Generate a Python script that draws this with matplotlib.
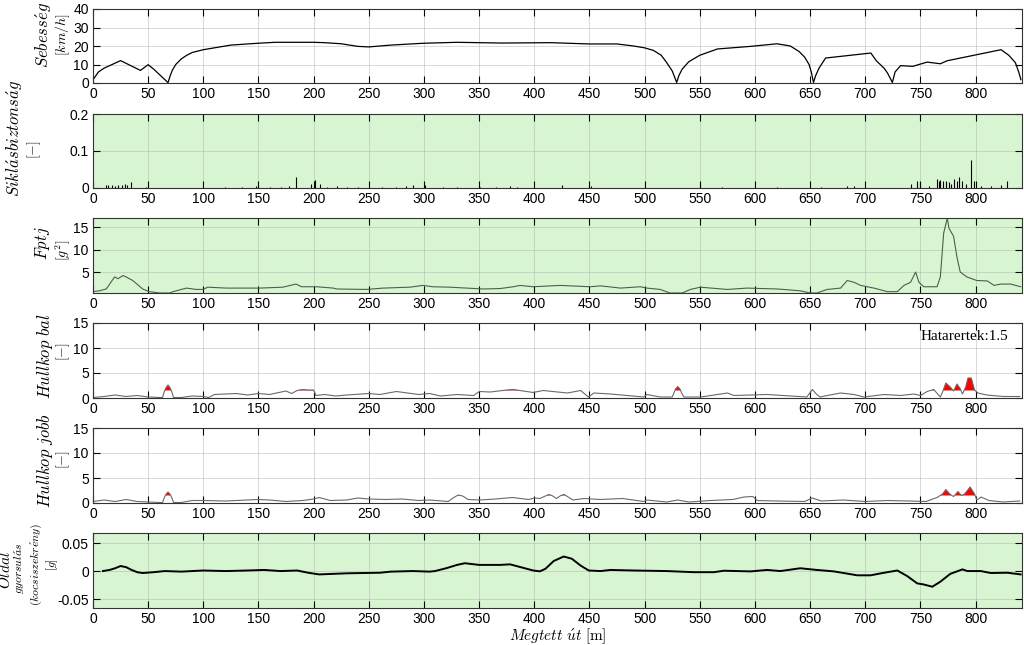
import numpy as np
import matplotlib.pyplot as plt
from matplotlib import rcParams

rcParams['font.family'] = 'Liberation Sans'
rcParams['mathtext.fontset'] = 'cm'
rcParams['font.size'] = 10

# Sebesség [km/h]
speed_x = [0, 5, 10, 25, 43, 50, 55, 63, 68, 70, 72, 75, 80, 85, 90, 100, 125, 150, 165, 200, 210, 225, 240,
           250, 270, 300, 330, 370, 415, 450, 475, 490, 500, 508, 515, 520, 525, 529, 531, 534, 540, 550,
           566, 596, 620, 632, 640, 645, 649, 651, 653, 655, 658, 664, 705, 710, 717, 720, 724.5, 727, 732,
           743, 756, 768, 774, 823, 830, 836, 839, 841]
speed_y = [1.8, 6, 8, 12.1, 6.8, 9.9, 7.5, 3, 0.2, 4, 7, 10, 13, 15, 16.5, 18, 20.5, 21.5, 22, 22, 21.8,
           21.2, 19.8, 19.5, 20.5, 21.5, 22, 21.6, 21.8, 21.1, 21.1, 20, 19, 17.6, 15, 11, 6.5, 0.3, 4, 7.5,
           11.5, 15, 18.4, 19.8, 21.2, 20, 17, 14, 10, 6, 0.3, 4, 8, 13.5, 16.2, 12, 8, 5.5, 0.3, 6, 9.4,
           9, 11.3, 10.4, 12, 18, 15, 11, 6, 1.8]

# Siklásbiztonság [-]
slip_x = [12, 14, 17, 20, 23, 26, 29, 31, 34, 48, 120, 135, 148, 160, 170, 178, 184.4, 198, 201, 205.6,
          212, 220.7, 229.8, 240, 262, 275, 284, 290, 300.6, 317, 330, 351, 365, 378, 384, 425, 451,
          500, 550.6, 570, 620, 660, 683.6, 689.7, 700, 741, 747, 749.6, 758, 765.3, 766.5, 768, 770,
          772.8, 775.8, 778, 780, 783, 785, 788, 791, 795.5, 798.5, 805, 813.7, 822.7, 828]
slip_y = [0.008, 0.007, 0.009, 0.006, 0.008, 0.007, 0.01, 0.008, 0.015, 0.003, 0.002, 0.003, 0.005, 0.003,
          0.003, 0.006, 0.031, 0.012, 0.022, 0.01, 0.004, 0.005, 0.004, 0.003, 0.003, 0.004, 0.006,
          0.008, 0.007, 0.004, 0.003, 0.004, 0.003, 0.005, 0.004, 0.008, 0.005, 0.003, 0.008, 0.003,
          0.003, 0.004, 0.006, 0.005, 0.003, 0.012, 0.02, 0.015, 0.005, 0.025, 0.02, 0.022, 0.018,
          0.02, 0.015, 0.012, 0.025, 0.018, 0.03, 0.02, 0.01, 0.075, 0.02, 0.005, 0.006, 0.008, 0.02]

# Fptj [g^2]
fptj_x = [0, 6, 12, 19.6, 22.7, 27.2, 30, 36, 45, 51, 60.5, 69.5, 72.6, 84.7, 93.7, 99.8, 104, 121, 151,
          172, 184, 189, 202.6, 217.7, 220.7, 248, 263, 287, 299, 308, 323.5, 353.7, 369, 381, 387,
          399, 423.6, 450.8, 460, 478, 496, 502, 514, 523, 534, 541.5, 550.6, 574.8, 593, 620, 641, 650,
          656, 665.5, 677.6, 683.6, 689.7, 695.7, 707.8, 720, 729, 735, 741, 745.6, 748.6, 753, 765,
          768, 771, 774.3, 775.8, 780, 783, 786, 792, 801, 810.6, 816.7, 822.7, 831.8, 840.8]
fptj_y = [0.6, 0.8, 1.2, 3.9, 3.5, 4.2, 3.9, 3.1, 1.2, 0.6, 0.3, 0.3, 0.6, 1.4, 1.1, 1.1, 1.6, 1.4, 1.4,
          1.6, 2.3, 1.7, 1.7, 1.4, 1.2, 1.1, 1.4, 1.6, 2.0, 1.7, 1.6, 1.2, 1.3, 1.7, 2.0,
          1.7, 2.0, 1.7, 1.9, 1.4, 1.7, 1.4, 1.1, 0.3, 0.3, 1.1, 1.6, 1.1, 1.4, 1.2, 0.8, 0.3,
          0.3, 1.1, 1.4, 3.1, 2.7, 2.0, 1.4, 0.6, 0.6, 2.0, 2.7, 5.0, 2.7, 1.7, 1.7,
          3.9, 13.7, 17.1, 14.8, 13, 8.4, 5, 3.9, 3.1, 3.0, 2.0, 2.3, 2.3, 1.7]

# Hullkop bal [-]
bal_x = [0, 10, 20, 30, 40, 50, 60, 63, 64.5, 66, 68, 70, 71.5, 73, 80, 90, 100, 105, 110, 120, 130, 140,
         150, 160, 175, 180, 185, 190, 195, 200, 202, 210, 220, 230, 250, 260, 270, 275, 285, 295, 305,
         315, 330, 345, 350, 360, 375, 381, 390, 399, 408, 430, 442, 449, 454, 469, 484, 499, 502, 514,
         525, 526.5, 528, 530, 532, 533.5, 535.5, 551, 575, 581, 611, 647, 652, 656, 659, 665.5, 677.6,
         689.7, 698.8, 717, 732, 744, 750, 756, 762, 768, 770, 773, 777, 780, 783, 786, 788, 791, 793,
         796, 799, 802, 810, 825, 840]
bal_y = [0.1, 0.3, 0.6, 0.3, 0.5, 0.2, 0.1, 0.1, 1.2, 2.0, 2.6, 2.0, 1.2, 0.1, 0.1, 0.4, 0.3, 0.1, 0.7,
         0.8, 0.9, 0.6, 0.9, 0.7, 1.4, 0.9, 1.5, 1.7, 1.6, 1.6, 0.5, 0.7, 0.4, 0.6, 0.9, 0.7, 1.1, 1.3,
         1.0, 0.7, 0.9, 0.4, 0.7, 0.5, 1.3, 1.2, 1.6, 1.7, 1.4, 1.1, 1.5, 1.0, 1.5, 0.2, 1.0, 0.8, 0.5,
         0.2, 0.7, 0.2, 0.2, 1.0, 1.8, 2.3, 1.8, 1.0, 0.2, 0.2, 1.0, 0.5, 0.7, 0.2, 1.7, 0.7, 0.2, 0.5,
         1.0, 0.7, 0.2, 0.7, 0.5, 0.8, 0.5, 1.3, 1.7, 0.2, 1.2, 3.0, 2.2, 1.4, 2.8, 1.9, 0.8, 2.2,
         4.0, 4.0, 1.6, 1.0, 0.6, 0.3, 0.3]

# Hullkop jobb [-]
jobb_x = [0, 10, 20, 30, 40, 50, 60, 63, 64.5, 66, 68, 70, 71.5, 73, 80, 90, 100, 120, 140, 150, 160, 175,
          190, 200, 205, 215, 230, 240, 250, 265, 280, 295, 305, 322, 327, 331, 335, 340, 350, 365, 380,
          395, 400, 405, 410, 413, 416, 420, 424, 427, 430, 435, 445, 460, 480, 499, 502, 520, 530, 540,
          560, 580, 590, 598, 602, 620, 645, 652, 660, 680, 700, 720, 740, 755, 765, 770, 773, 777, 780,
          784, 787, 790, 795, 799, 801, 805, 812, 825, 840]
jobb_y = [0.3, 0.6, 0.3, 0.7, 0.3, 0.2, 0.1, 0.1, 1.0, 1.7, 2.2, 1.7, 1.0, 0.1, 0.1, 0.5, 0.5, 0.4, 0.6, 0.7,
          0.6, 0.3, 0.5, 0.8, 1.1, 0.5, 0.6, 1.0, 0.8, 0.7, 0.8, 0.5, 0.6, 0.3, 1.1, 1.6, 1.4, 0.7, 0.6,
          0.8, 1.1, 0.7, 1.0, 0.9, 1.4, 1.7, 1.5, 0.9, 1.5, 1.7, 1.3, 0.6, 0.9, 0.7, 0.9, 0.3, 0.6, 0.2,
          0.6, 0.2, 0.5, 0.7, 1.2, 1.3, 0.5, 0.4, 0.3, 1.0, 0.4, 0.6, 0.3, 0.5, 0.4, 0.3, 1.1, 1.8, 2.7,
          1.7, 1.3, 2.3, 1.5, 1.8, 3.2, 1.8, 0.6, 1.2, 0.5, 0.2, 0.4]

# Oldal gyorsulás (kocsiszekrény) [g]
lat_x = [9, 15, 20, 25, 30, 35, 40, 45, 55, 65, 80, 100, 120, 140, 155, 170, 185, 195, 205, 230, 260, 270,
         290, 305, 310, 320, 330, 337, 350, 369, 378, 399, 405, 410, 417.6, 426.6, 434, 441.8, 449.3,
         460, 469, 490, 520, 544.5, 562.7, 571.8, 596, 611, 623, 641, 656, 671.5, 692.7, 704.8, 717, 729,
         738, 747, 753, 760.7, 768, 777, 788, 792.5, 804.6, 813.7, 828.8, 840.8]
lat_y = [0.0, 0.002, 0.005, 0.009, 0.007, 0.002, -0.002, -0.0035, -0.002, 0.0, -0.001, 0.001, 0.0, 0.001,
         0.002, 0.0, 0.001, -0.003, -0.006, -0.004, -0.003, -0.001, 0.0, -0.001, 0.0, 0.005, 0.011, 0.014,
         0.011, 0.011, 0.012, 0.001, -0.0005, 0.004, 0.018, 0.026, 0.022, 0.010, 0.001, 0.0, 0.002, 0.001,
         0.0, -0.002, -0.002, 0.0006, -0.0006, 0.002, 0.0, 0.005, 0.002, -0.0006, -0.0076, -0.0076,
         -0.003, 0.001, -0.009, -0.022, -0.024, -0.028, -0.019, -0.005, 0.003, 0.0, 0.0, -0.0035, -0.003,
         -0.006]

limit = 1.5
x_ticks = np.arange(0, 801, 50)
green = '#d8f5d2'

# panel placement in pixels (top, bottom)
panels_px = [(9, 83), (114, 188), (218, 293), (323, 398), (428, 503), (533, 608)]
W, H = 1024, 645
fig = plt.figure(figsize=(W / 100, H / 100), dpi=100)
axes = []
for top, bot in panels_px:
    ax = fig.add_axes([93 / W, 1 - bot / H, (1022 - 93) / W, (bot - top) / H])
    axes.append(ax)

for i, ax in enumerate(axes):
    ax.set_xlim(0, 842)
    ax.set_xticks(x_ticks)
    ax.tick_params(direction='in', length=5, width=0.8, top=True, right=True, labelsize=10, pad=3)
    ax.grid(True, color='#b4b4b4', linewidth=0.6, alpha=0.6)
    ax.set_axisbelow(True)
    for s in ax.spines.values():
        s.set_linewidth(0.8)
        s.set_color('#333333')

# 1 - speed
ax = axes[0]
ax.plot(speed_x, speed_y, color='black', linewidth=0.9)
ax.set_ylim(0, 40)
ax.set_yticks([0, 10, 20, 30, 40])

# 2 - slip safety
ax = axes[1]
ax.set_facecolor(green)
ax.vlines(slip_x, 0, slip_y, color='black', linewidth=0.8)
ax.set_ylim(0, 0.2)
ax.set_yticks([0, 0.1, 0.2])
ax.set_yticklabels(['0', '0.1', '0.2'])

# 3 - Fptj
ax = axes[2]
ax.set_facecolor(green)
ax.plot(fptj_x, fptj_y, color='#4d5e4d', linewidth=0.8)
ax.set_ylim(0.3, 17.1)
ax.set_yticks([5, 10, 15])

# 4, 5 - Hullkop
for ax, hx, hy in [(axes[3], bal_x, bal_y), (axes[4], jobb_x, jobb_y)]:
    hx = np.array(hx)
    hy = np.array(hy)
    ax.plot(hx, hy, color='#6a6a6a', linewidth=0.8)
    ax.fill_between(hx, limit, hy, where=hy > limit, interpolate=True, color='red', linewidth=0)
    ax.set_ylim(0, 15)
    ax.set_yticks([0, 5, 10, 15])
axes[3].text(0.985, 0.82, 'Hatarertek:1.5', transform=axes[3].transAxes, ha='right', va='center',
             fontsize=11, family='Liberation Serif')

# 6 - lateral acceleration
ax = axes[5]
ax.set_facecolor(green)
ax.plot(lat_x, lat_y, color='black', linewidth=1.4)
ax.set_ylim(-0.066, 0.068)
ax.set_yticks([-0.05, 0, 0.05])
ax.set_yticklabels(['-0.05', '0', '0.05'])
ax.set_xlabel(r'$Megtett\ \acute{u}t\ \mathrm{[m]}$', fontsize=11, labelpad=0)


def ylab(x_px, y_px, s, size=12):
    fig.text(x_px / W, 1 - y_px / H, s, rotation=90, ha='center', va='center', fontsize=size)


ylab(44, 35, r'$Sebess\acute{e}g$')
ylab(63, 35, r'$[km/h]$', 10)
ylab(15, 138, r'$Sikl\acute{a}sbiztons\acute{a}g$')
ylab(34, 150, r'$[-]$', 10)
ylab(43, 243, r'$Fptj$')
ylab(63, 250, r'$[g^2]$', 10)
ylab(45, 356, r'$Hullkop\ bal$')
ylab(63, 352, r'$[-]$', 10)
ylab(45, 461, r'$Hullkop\ jobb$')
ylab(63, 460, r'$[-]$', 10)
ylab(6, 570, r'$Oldal$', 11)
ylab(20, 568, r'$gyorsul\acute{a}s$', 8.5)
ylab(36, 565, r'$(kocsiszekr\acute{e}ny)$', 8.5)
ylab(52, 565, r'$[g]$', 8.5)

fig.savefig('out.png', dpi=100)
